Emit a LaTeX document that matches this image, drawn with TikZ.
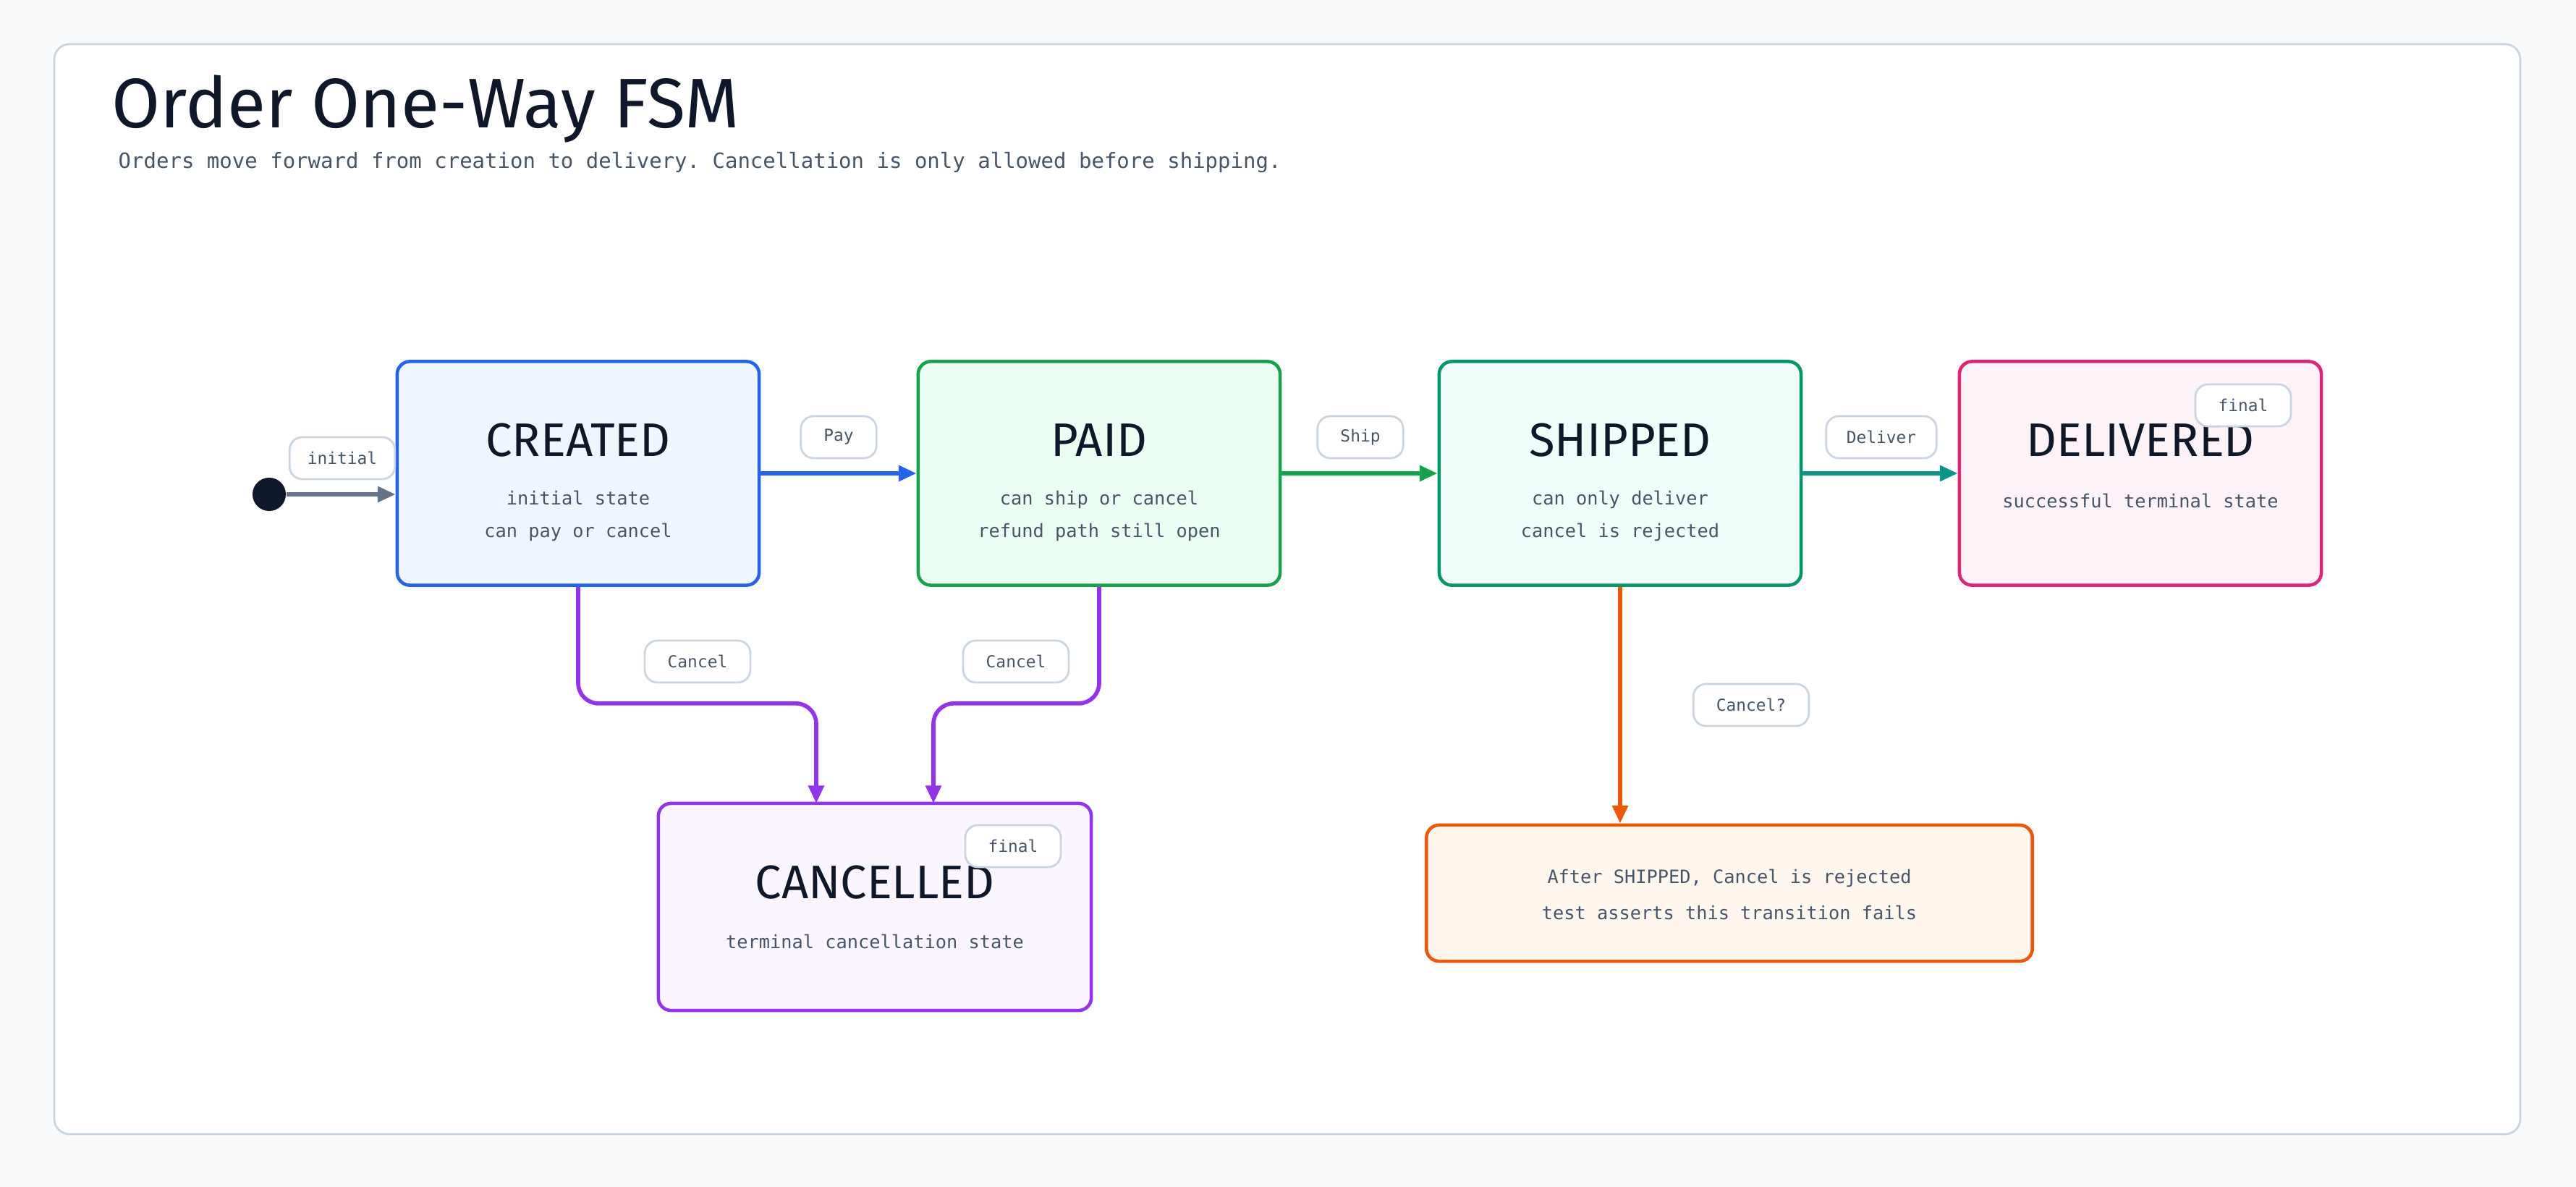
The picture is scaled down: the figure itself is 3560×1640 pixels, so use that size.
\documentclass[tikz,border=0pt]{standalone}
\usepackage{fontspec}
\setmainfont{Fira Sans}
\setmonofont{DejaVu Sans Mono}
\usetikzlibrary{arrows.meta}

\definecolor{pagebg}{HTML}{F8FAFC}
\definecolor{panelline}{HTML}{CBD5E1}
\definecolor{ink}{HTML}{0F172A}
\definecolor{slate}{HTML}{475569}
\definecolor{startline}{HTML}{64748B}
\definecolor{blueline}{HTML}{2563EB}
\definecolor{bluefill}{HTML}{EFF6FF}
\definecolor{greenline}{HTML}{16A34A}
\definecolor{greenfill}{HTML}{ECFDF3}
\definecolor{tealline}{HTML}{059669}
\definecolor{tealfill}{HTML}{F0FDFA}
\definecolor{deliverline}{HTML}{0D9488}
\definecolor{pinkline}{HTML}{DB2777}
\definecolor{pinkfill}{HTML}{FDF2F8}
\definecolor{purpleline}{HTML}{9333EA}
\definecolor{purplefill}{HTML}{FAF5FF}
\definecolor{orangeline}{HTML}{EA580C}
\definecolor{orangefill}{HTML}{FFF7ED}

\begin{document}
\begin{tikzpicture}[x=0.01cm, y=-0.01cm,
  statebox/.style={rounded corners=5pt, line width=1.3pt, minimum width=5cm, minimum height=3.09cm, inner sep=0pt},
  stname/.style={font=\fontsize{18.5}{22}\selectfont, text=ink, inner sep=0pt},
  stdesc/.style={font=\ttfamily\fontsize{7.2}{12.8}\selectfont, text=slate, align=center, inner sep=0pt},
  pill/.style={draw=panelline, fill=white, rounded corners=5pt, line width=0.8pt, minimum height=0.58cm, inner xsep=9pt, inner ysep=0pt, font=\ttfamily\fontsize{6.5}{8}\selectfont, text=slate},
  move/.style={line width=1.6pt, -{Triangle[length=7pt,width=6pt]}},
]

\useasboundingbox (0,0) rectangle (3560,1640);
\fill[pagebg] (0,0) rectangle (3560,1640);
\draw[panelline, fill=white, line width=0.8pt, rounded corners=6pt] (75,61) rectangle (3483,1567);

\node[anchor=base west, inner sep=0pt, text=ink, font=\fontsize{27.6}{31}\selectfont] (title) at (154,177) {Order One-Way FSM};
\node[anchor=west, inner sep=0pt, text=slate, font=\ttfamily\fontsize{8.25}{10}\selectfont] (subtitle) at (163,225) {Orders move forward from creation to delivery. Cancellation is only allowed before shipping.};

% states
\node[statebox, draw=blueline, fill=bluefill] (created) at (799,654) {};
\node[stname] (createdT) at (799,608) {CREATED};
\node[stdesc] (createdD) at (799,713) {initial state\\can pay or cancel};

\node[statebox, draw=greenline, fill=greenfill] (paid) at (1519,654) {};
\node[stname] (paidT) at (1519,608) {PAID};
\node[stdesc] (paidD) at (1519,713) {can ship or cancel\\refund path still open};

\node[statebox, draw=tealline, fill=tealfill] (shipped) at (2239,654) {};
\node[stname] (shippedT) at (2239,608) {SHIPPED};
\node[stdesc] (shippedD) at (2239,713) {can only deliver\\cancel is rejected};

\node[statebox, draw=pinkline, fill=pinkfill] (delivered) at (2958,654) {};
\node[stname] (deliveredT) at (2958,608) {DELIVERED};
\node[stdesc] (deliveredD) at (2958,692) {successful terminal state};
\node[pill] (deliveredF) at (3100,560) {final};

\node[statebox, draw=purpleline, fill=purplefill, minimum width=5.98cm, minimum height=2.86cm] (cancelled) at (1209,1253) {};
\node[stname] (cancelledT) at (1209,1219) {CANCELLED};
\node[stdesc] (cancelledD) at (1209,1301) {terminal cancellation state};
\node[pill] (cancelledF) at (1400,1169) {final};

\node[statebox, draw=orangeline, fill=orangefill, minimum width=8.37cm, minimum height=1.88cm] (rejected) at (2390,1234) {};
\node[stdesc, font=\ttfamily\fontsize{7.2}{14.2}\selectfont] (rejectedD) at (2390,1236) {After SHIPPED, Cancel is rejected\\test asserts this transition fails};

% transitions
\node[circle, fill=ink, minimum size=0.46cm, inner sep=0pt] (start) at (372,683) {};
\draw[move, startline] (start) -- (start -| created.west);
\node[pill, inner xsep=7pt] (initialL) at (473,633) {initial};

\draw[move, blueline] (created.east) -- (paid.west);
\node[pill] (payL) at (1159,604) {Pay};
\draw[move, greenline] (paid.east) -- (shipped.west);
\node[pill] (shipL) at (1880,604) {Ship};
\draw[move, deliverline] (shipped.east) -- (delivered.west);
\node[pill, inner xsep=8pt] (deliverL) at (2600,604) {Deliver};

\coordinate (cin1) at (1128,1110);
\coordinate (cin2) at (1290,1110);
\draw[move, purpleline, rounded corners=8pt] (created.south) -- ++(0,161) -| (cin1);
\node[pill] (cancel1L) at (964,914) {Cancel};
\draw[move, purpleline, rounded corners=8pt] (paid.south) -- ++(0,161) -| (cin2);
\node[pill] (cancel2L) at (1404,914) {Cancel};

\draw[move, orangeline] (shipped.south) -- (shipped.south |- rejected.north);
\node[pill] (cancelqL) at (2420,974) {Cancel?};

\end{tikzpicture}
\end{document}
